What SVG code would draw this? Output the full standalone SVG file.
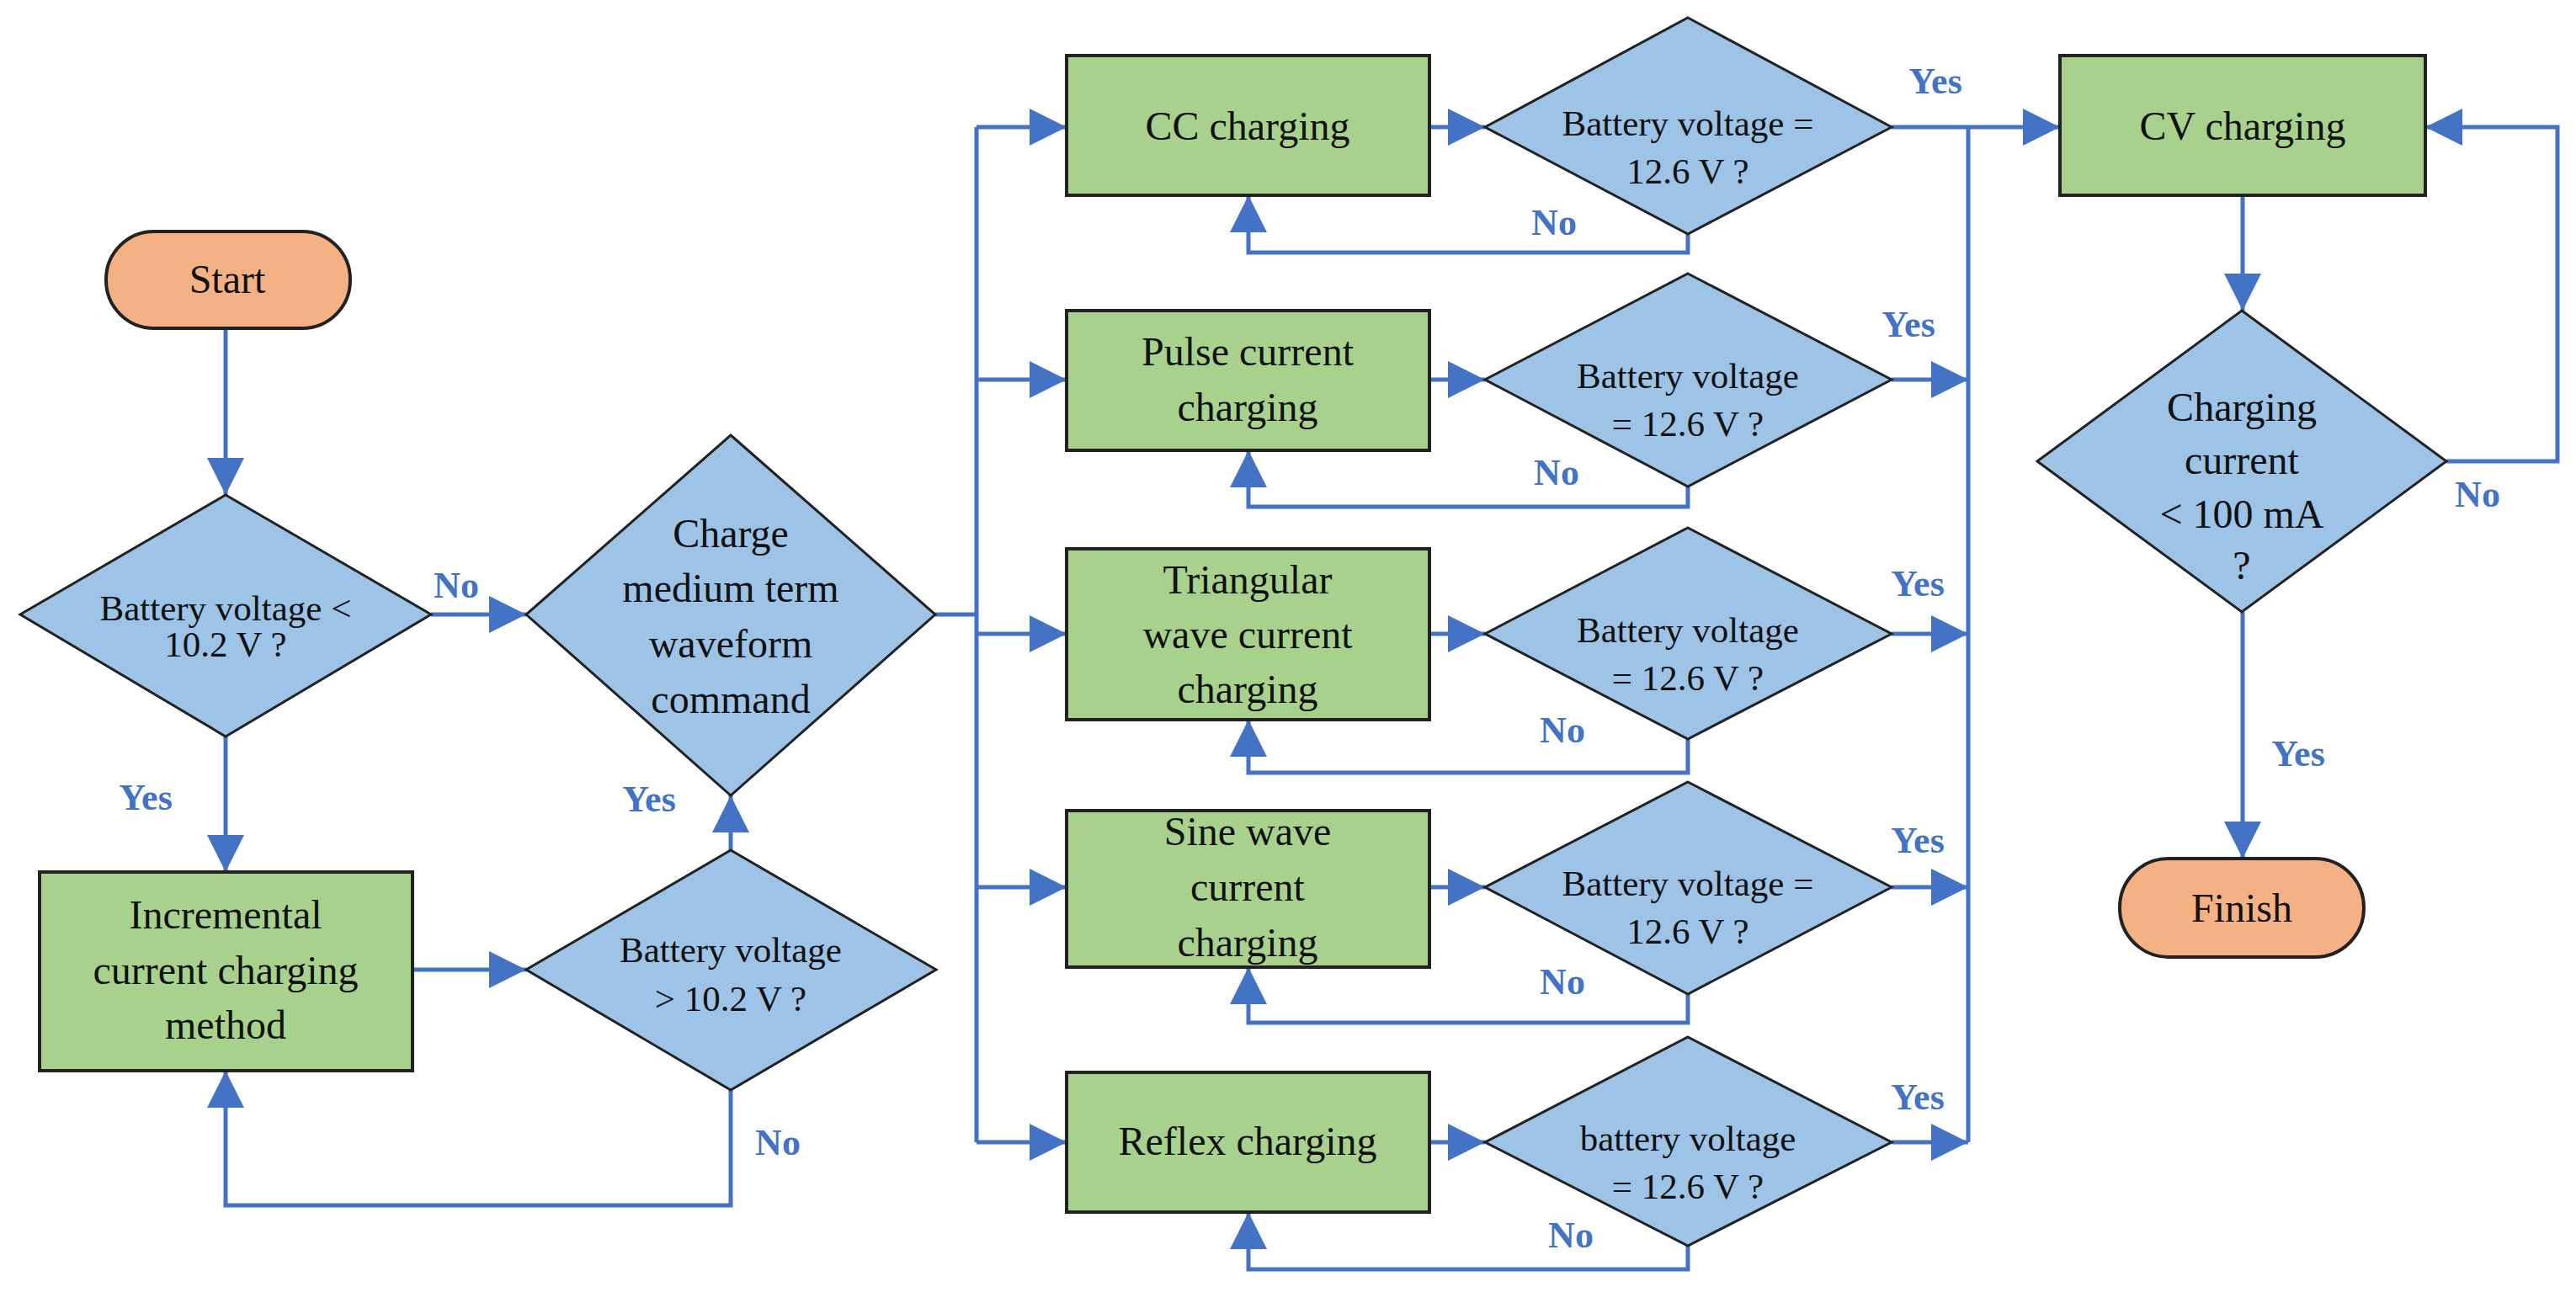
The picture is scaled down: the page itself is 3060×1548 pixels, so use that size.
<svg xmlns="http://www.w3.org/2000/svg" width="3060" height="1548" viewBox="0 0 3060 1548">
<style>
.g{fill:#A9D18E;stroke:#222;stroke-width:4}
.b{fill:#9DC3E6;stroke:#222;stroke-width:3}
.o{fill:#F4B183;stroke:#222;stroke-width:4}
.t{font-family:"Liberation Serif",serif;font-size:48px;fill:#111;text-anchor:middle}
.s{font-family:"Liberation Serif",serif;font-size:43px;fill:#111;text-anchor:middle}
.l{font-family:"Liberation Serif",serif;font-size:44px;font-weight:bold;fill:#4472C4;text-anchor:middle}
.c{fill:none;stroke:#4472C4;stroke-width:5}
</style>
<defs>
<marker id="m" viewBox="0 0 10 10" refX="10" refY="5" markerWidth="44" markerHeight="44" orient="auto" markerUnits="userSpaceOnUse"><path d="M0,0L10,5L0,10z" fill="#4472C4"/></marker></defs>
<g id="connectors" class="c">
<path d="M268,388V588" marker-end="url(#m)"/>
<path d="M268,875V1036" marker-end="url(#m)"/>
<path d="M512,730H625" marker-end="url(#m)"/>
<path d="M490,1152H625" marker-end="url(#m)"/>
<path d="M868,1010V945" marker-end="url(#m)"/>
<path d="M868,1295V1432H268V1272" marker-end="url(#m)"/>
<path d="M1111,730H1160"/>
<path d="M1160,151V1357"/>
<path d="M1160,151H1267" marker-end="url(#m)"/>
<path d="M1160,451H1267" marker-end="url(#m)"/>
<path d="M1160,753H1267" marker-end="url(#m)"/>
<path d="M1160,1054H1267" marker-end="url(#m)"/>
<path d="M1160,1357H1267" marker-end="url(#m)"/>
<path d="M1698,151H1764" marker-end="url(#m)"/>
<path d="M1698,451H1764" marker-end="url(#m)"/>
<path d="M1698,753H1764" marker-end="url(#m)"/>
<path d="M1698,1054H1764" marker-end="url(#m)"/>
<path d="M1698,1357H1764" marker-end="url(#m)"/>
<path d="M2005,278V300H1483V232" marker-end="url(#m)"/>
<path d="M2005,578V602H1483V535" marker-end="url(#m)"/>
<path d="M2005,878V918H1483V855" marker-end="url(#m)"/>
<path d="M2005,1181V1215H1483V1149" marker-end="url(#m)"/>
<path d="M2005,1480V1508H1483V1440" marker-end="url(#m)"/>
<path d="M2247,151H2447" marker-end="url(#m)"/>
<path d="M2338,151V1357"/>
<path d="M2247,451H2338" marker-end="url(#m)"/>
<path d="M2247,753H2338" marker-end="url(#m)"/>
<path d="M2247,1054H2338" marker-end="url(#m)"/>
<path d="M2247,1357H2338" marker-end="url(#m)"/>
<path d="M2664,232V369" marker-end="url(#m)"/>
<path d="M2664,727V1020" marker-end="url(#m)"/>
<path d="M2906,548H3038V151H2881" marker-end="url(#m)"/>
</g>
<g id="labels">
<text class="l" x="173" y="962">Yes</text><text class="l" x="771" y="964">Yes</text>
<text class="l" x="542" y="710">No</text><text class="l" x="924" y="1372">No</text>
<text class="l" x="2299" y="111">Yes</text><text class="l" x="2267" y="400">Yes</text><text class="l" x="2278" y="708">Yes</text><text class="l" x="2278" y="1013">Yes</text><text class="l" x="2278" y="1318">Yes</text>
<text class="l" x="1846" y="279">No</text><text class="l" x="1849" y="576">No</text><text class="l" x="1856" y="882">No</text><text class="l" x="1856" y="1181">No</text><text class="l" x="1866" y="1482">No</text>
<text class="l" x="2943" y="602">No</text><text class="l" x="2730" y="910">Yes</text>
</g>
<g id="start"><rect class="o" x="126" y="275" width="290" height="115" rx="57"/><text class="t" x="270" y="348">Start</text></g>
<g id="d1"><polygon class="b" points="268,588 512,730 268,875 24,730"/><text class="s" x="268" y="737">Battery voltage &lt;</text><text class="s" x="268" y="780">10.2 V ?</text></g>
<g id="d2"><polygon class="b" points="868,517 1111,730 868,945 625,730"/><text class="t" x="868" y="650">Charge</text><text class="t" x="868" y="715">medium term</text><text class="t" x="868" y="781">waveform</text><text class="t" x="868" y="847">command</text></g>
<g id="incr"><rect class="g" x="47" y="1036" width="443" height="236"/><text class="t" x="268" y="1103">Incremental</text><text class="t" x="268" y="1169">current charging</text><text class="t" x="268" y="1234">method</text></g>
<g id="d3"><polygon class="b" points="868,1010 1112,1152 868,1295 625,1152"/><text class="s" x="868" y="1143">Battery voltage</text><text class="s" x="868" y="1201">&gt; 10.2 V ?</text></g>
<g id="cc"><rect class="g" x="1267" y="66" width="431" height="166"/><text class="t" x="1482" y="166">CC charging</text></g>
<g id="pulse"><rect class="g" x="1267" y="369" width="431" height="166"/><text class="t" x="1482" y="434">Pulse current</text><text class="t" x="1482" y="500">charging</text></g>
<g id="tri"><rect class="g" x="1267" y="652" width="431" height="203"/><text class="t" x="1482" y="705">Triangular</text><text class="t" x="1482" y="770">wave current</text><text class="t" x="1482" y="835">charging</text></g>
<g id="sine"><rect class="g" x="1267" y="963" width="431" height="186"/><text class="t" x="1482" y="1004">Sine wave</text><text class="t" x="1482" y="1070">current</text><text class="t" x="1482" y="1136">charging</text></g>
<g id="reflex"><rect class="g" x="1267" y="1274" width="431" height="166"/><text class="t" x="1482" y="1372">Reflex charging</text></g>
<g id="dcc"><polygon class="b" points="2005,21 2247,151 2005,278 1764,151"/><text class="s" x="2005" y="161">Battery voltage =</text><text class="s" x="2005" y="218">12.6 V ?</text></g>
<g id="dpulse"><polygon class="b" points="2005,325 2247,451 2005,578 1764,451"/><text class="s" x="2005" y="461">Battery voltage</text><text class="s" x="2005" y="518">= 12.6 V ?</text></g>
<g id="dtri"><polygon class="b" points="2005,627 2247,753 2005,878 1764,753"/><text class="s" x="2005" y="763">Battery voltage</text><text class="s" x="2005" y="820">= 12.6 V ?</text></g>
<g id="dsine"><polygon class="b" points="2005,929 2247,1054 2005,1181 1764,1054"/><text class="s" x="2005" y="1064">Battery voltage =</text><text class="s" x="2005" y="1121">12.6 V ?</text></g>
<g id="dreflex"><polygon class="b" points="2005,1232 2247,1357 2005,1480 1764,1357"/><text class="s" x="2005" y="1367">battery voltage</text><text class="s" x="2005" y="1424">= 12.6 V ?</text></g>
<g id="cv"><rect class="g" x="2447" y="66" width="434" height="166"/><text class="t" x="2664" y="166">CV charging</text></g>
<g id="dcur"><polygon class="b" points="2663,369 2906,548 2663,727 2420,548"/><text class="t" x="2663" y="500">Charging</text><text class="t" x="2663" y="563">current</text><text class="t" x="2663" y="627">&lt; 100 mA</text><text class="t" x="2663" y="688">?</text></g>
<g id="finish"><rect class="o" x="2518" y="1020" width="290" height="117" rx="58"/><text class="t" x="2663" y="1095">Finish</text></g>
</svg>
